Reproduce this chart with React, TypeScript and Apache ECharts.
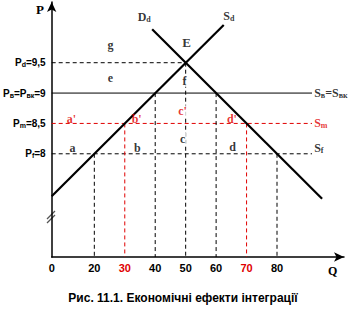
import React, { useEffect, useRef } from "react";
import * as echarts from "echarts";

// Quantity axis (origin drawn as "0")
const qOrigin = 6;
const qTickValues = [20, 30, 40, 50, 60, 70, 80];
const redQTicks = [30, 70];

// Price levels and their tick labels
const priceTicks = [8, 8.5, 9, 9.5];
const priceTickLabels = [
  "{b|P}{s|f}{b|=8}",
  "{b|P}{s|m}{b|=8,5}",
  "{b|P}{s|в}{b|=P}{s|вк}{b|=9}",
  "{b|P}{s|d}{b|=9,5}",
];

// Supply / demand curves (Q, P)
const supplyLine = [[6, 7.3], [62.5, 10.12]];
const demandLine = [[39, 10.05], [94.8, 7.26]];

// Horizontal price lines
const pdLine = [[6, 9.5], [50, 9.5]];
const pbLine = [[6, 9], [91.5, 9]];
const pmLine = [[6, 8.5], [91.5, 8.5]];
const pfLine = [[6, 8], [91.5, 8]];

// Vertical drop lines: Q and top price
const dropQ = [20, 30, 40, 50, 60, 70, 80];
const dropP = [8, 8.5, 9, 9.5, 9, 8.5, 8];
const dropRed = [false, true, false, false, false, true, false];

// Area letters
const areaNames = ["g", "e", "f", "E", "a'", "b'", "c'", "d'", "a", "b", "c", "d"];
const areaQ = [25.3, 25.3, 49.6, 50.3, 12.5, 33.9, 49.0, 65.2, 12.8, 34.1, 49.0, 65.4];
const areaP = [9.79, 9.25, 9.2, 9.84, 8.57, 8.57, 8.7, 8.57, 8.1, 8.1, 8.25, 8.12];
const areaRed = [false, false, false, false, true, true, true, true, false, false, false, false];
const areaOnLine = [false, false, true, false, false, false, true, false, false, false, true, false];

// Curve names
const curveNames = ["{i|D}{j|d}", "{i|S}{j|d}"];
const curveQ = [36.4, 64.2];
const curveP = [10.26, 10.27];

const sideNames = ["{i|S}{j|в}{i|=S}{j|вк}", "{r|S}{rj|m}", "{i|S}{j|f}"];
const sideQ = [92.2, 92.2, 92.2];
const sideP = [9, 8.5, 8.09];

const title = "Рис. 11.1. Економічні ефекти інтеграції";

const SERIF = "'Liberation Serif', 'Times New Roman', serif";
const SANS = "'Liberation Sans', Arial, sans-serif";

const plotRich = {
  i: { fontFamily: SERIF, fontWeight: "bold", fontSize: 12, color: "#000" },
  j: { fontFamily: SERIF, fontWeight: "bold", fontSize: 8, color: "#000", verticalAlign: "bottom", padding: [5, 0, 0, 0] },
  r: { fontFamily: SERIF, fontWeight: "bold", fontSize: 12, color: "#e00000" },
  rj: { fontFamily: SERIF, fontWeight: "bold", fontSize: 8, color: "#e00000", verticalAlign: "bottom", padding: [5, 0, 0, 0] },
};

export default function App() {
  const ref = useRef<HTMLDivElement>(null);
  useEffect(() => {
    document.body.style.margin = "0";
    if (!ref.current) return;
    const chart = echarts.init(ref.current, undefined, { renderer: "svg" });

    const lineSeries = (data: number[][], color: string, type: any, width: number) => ({
      type: "line",
      data,
      symbol: "none",
      silent: true,
      lineStyle: { color, type, width },
      z: 3,
    });

    const series: any[] = [];
    series.push(lineSeries(pdLine, "#000", [4, 3], 1));
    series.push(lineSeries(pbLine, "#000", "solid", 1));
    series.push(lineSeries(pmLine, "#e00000", [4, 3], 1));
    series.push(lineSeries(pfLine, "#000", [4, 3], 1));
    dropQ.forEach((q, k) => {
      series.push(
        lineSeries(
          [[q, dropP[k]], [q, 6.3]],
          dropRed[k] ? "#e00000" : "#000",
          [4, 3],
          1
        )
      );
    });
    series.push({ ...lineSeries(supplyLine, "#000", "solid", 2.2), z: 4 });
    series.push({ ...lineSeries(demandLine, "#000", "solid", 2.2), z: 4 });

    series.push({
      type: "scatter",
      symbolSize: 0,
      silent: true,
      z: 5,
      data: areaNames.map((n, k) => ({
        value: [areaQ[k], areaP[k]],
        name: n,
        label: {
          show: true,
          position: "inside",
          formatter: n,
          fontFamily: SERIF,
          fontWeight: "bold",
          fontSize: n === "E" ? 13 : 12,
          color: areaRed[k] ? "#e00000" : "#000",
          backgroundColor: areaOnLine[k] ? "#fff" : "transparent",
          padding: areaOnLine[k] ? [0, 1] : 0,
        },
      })),
    });
    series.push({
      type: "scatter",
      symbolSize: 0,
      silent: true,
      z: 5,
      data: curveNames.map((n, k) => ({
        value: [curveQ[k], curveP[k]],
        label: { show: true, position: "inside", formatter: n, rich: plotRich },
      })),
    });
    series.push({
      type: "scatter",
      symbolSize: 0,
      silent: true,
      z: 5,
      data: sideNames.map((n, k) => ({
        value: [sideQ[k], sideP[k]],
        label: { show: true, position: "right", distance: 0, formatter: n, rich: plotRich },
      })),
    });

    chart.setOption({
      animation: false,
      grid: { left: 51, right: 13, top: 2, bottom: 59, containLabel: false },
      xAxis: {
        type: "value",
        min: qOrigin,
        max: 102,
        splitLine: { show: false },
        axisTick: { show: false },
        axisLine: {
          onZero: false,
          symbol: ["none", "arrow"],
          symbolSize: [7, 10],
          lineStyle: { color: "#000", width: 1.5 },
        },
        axisLabel: {
          customValues: [qOrigin, ...qTickValues],
          margin: 5,
          formatter: (v: number) => {
            if (v === qOrigin) return "{n|0}";
            return redQTicks.includes(v) ? "{r|" + v + "}" : "{n|" + v + "}";
          },
          rich: {
            n: { fontFamily: SANS, fontWeight: "bold", fontSize: 11, color: "#000" },
            r: { fontFamily: SANS, fontWeight: "bold", fontSize: 11, color: "#e00000" },
          },
        },
      },
      yAxis: {
        type: "value",
        min: 6.3,
        max: 10.5,
        splitLine: { show: false },
        axisTick: { show: false },
        axisLine: {
          onZero: false,
          symbol: ["none", "arrow"],
          symbolSize: [7, 10],
          lineStyle: { color: "#000", width: 1.5 },
        },
        axisLabel: {
          customValues: priceTicks,
          margin: 6,
          formatter: (v: number) => priceTickLabels[priceTicks.indexOf(v)] || "",
          rich: {
            b: { fontFamily: SANS, fontWeight: "bold", fontSize: 10, color: "#000" },
            s: { fontFamily: SANS, fontWeight: "bold", fontSize: 7, color: "#000", verticalAlign: "bottom", padding: [4, 0, 0, 0] },
          },
        },
      },
      graphic: [
        { type: "text", left: 36, top: 3, style: { text: "P", fontFamily: SERIF, fontWeight: "bold", fontSize: 13, fill: "#000" } },
        { type: "text", left: 328, top: 265, style: { text: "Q", fontFamily: SERIF, fontWeight: "bold", fontSize: 12, fill: "#000" } },
        { type: "line", shape: { x1: 47, y1: 219, x2: 55, y2: 211 }, style: { stroke: "#555", lineWidth: 1.2 } },
        { type: "line", shape: { x1: 47, y1: 223, x2: 55, y2: 215 }, style: { stroke: "#555", lineWidth: 1.2 } },
        {
          type: "text",
          x: 183,
          y: 298,
          style: {
            text: title,
            fontFamily: SANS,
            fontWeight: "bold",
            fontSize: 12,
            fill: "#000",
            align: "center",
            verticalAlign: "middle",
          },
        },
      ],
      series,
    });
    return () => chart.dispose();
  }, []);
  return <div ref={ref} style={{ width: 357, height: 316, background: "#fff" }} />;
}
